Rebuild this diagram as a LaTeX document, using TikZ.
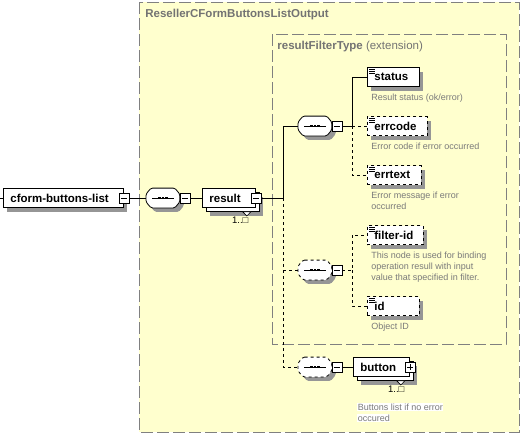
\documentclass[tikz,border=0pt]{standalone}
\usepackage{fontspec}
\setmainfont{Liberation Sans}
\usetikzlibrary{positioning}
\usetikzlibrary{shadows}
\definecolor{groupfill}{RGB}{255,255,206}
\definecolor{groupline}{RGB}{128,128,128}
\definecolor{doctext}{RGB}{122,122,122}
\definecolor{shadowgray}{RGB}{150,150,150}
\newcommand{\hlwhite}[1]{{\setlength{\fboxsep}{0.4pt}\colorbox{white}{#1}}}
\newcommand{\octagon}[2]{([xshift=5pt+#2,yshift=-#2]#1.north west) -- ([xshift=-5pt+#2,yshift=-#2]#1.north east)
  -- ([xshift=#2,yshift=-6pt-#2]#1.north east) -- ([xshift=#2,yshift=6pt-#2]#1.south east)
  -- ([xshift=-5pt+#2,yshift=-#2]#1.south east) -- ([xshift=5pt+#2,yshift=-#2]#1.south west)
  -- ([xshift=#2,yshift=6pt-#2]#1.south west) -- ([xshift=#2,yshift=-6pt-#2]#1.north west) -- cycle}
\newcommand{\seqoutline}[2]{%
  \fill[shadowgray, rounded corners=1.5pt] \octagon{#1}{4pt};
  \filldraw[fill=white, rounded corners=1.5pt, #2] \octagon{#1}{0pt};
  \draw ([xshift=6pt]#1.west) -- ([xshift=-6pt]#1.east);
  \foreach \d in {-3.6,0,3.6} \fill ([xshift=\d pt]#1.center) ++(-1.4,-1.4) rectangle ++(2.8,2.8);}

\begin{document}
\begin{tikzpicture}[x=1pt, y=-1pt, line width=0.8pt,
    elem/.style={draw, fill=white, anchor=west, minimum height=19pt, inner xsep=7pt, inner ysep=0pt,
      text width=#1, font=\fontsize{11.5}{13}\selectfont\bfseries},
    single/.style={elem=#1, drop shadow={shadow xshift=4pt, shadow yshift=-4pt, fill=shadowgray, opacity=1}},
    multi/.style={elem=#1, general shadow={shadow xshift=8pt, shadow yshift=-8pt, fill=shadowgray, opacity=1},
      copy shadow={shadow xshift=4pt, shadow yshift=-4pt}},
    seq/.style={rectangle, anchor=west, minimum width=33pt, minimum height=19pt, inner sep=0pt,
      append after command={\pgfextra{\seqoutline{\tikzlastnode}{#1}}}},
    seq/.default=solid]
  \tikzstyle{group}=[draw=groupline, fill=groupfill, line width=0.7pt, dash pattern=on 12pt off 4pt]
  \tikzstyle{grouptitle}=[anchor=west, inner sep=0pt, text=groupline!90!black, font=\fontsize{11.5}{13}\selectfont]
  \tikzstyle{typed}=[path picture={\foreach \k in {1.6,3.6,5.6}
      \draw[solid, line width=0.6pt] ([shift={(1.8pt,-\k pt)}]path picture bounding box.north west) -- +(6pt,0pt);}]
  \tikzstyle{mbox}=[draw, solid, fill=white, minimum size=10pt, inner sep=0pt, line width=0.6pt,
      path picture={\draw ([xshift=2pt]path picture bounding box.west) -- ([xshift=-2pt]path picture bounding box.east);}]
  \tikzstyle{pbox}=[mbox, path picture={\draw ([xshift=2pt]path picture bounding box.west) -- ([xshift=-2pt]path picture bounding box.east);
        \draw ([yshift=-2pt]path picture bounding box.north) -- ([yshift=2pt]path picture bounding box.south);}]
  \tikzstyle{desc}=[anchor=north west, inner sep=0pt, align=left, text=doctext, font=\fontsize{9}{11}\selectfont]
  \tikzstyle{mult}=[anchor=north east, inner sep=0pt, font=\fontsize{9.5}{11}\selectfont]
  \tikzstyle{notch}=[fill=white, line width=0.6pt]

  \useasboundingbox (0,0) rectangle (525,437);

  \draw[group] (139,2) rectangle (519,432);
  \node[grouptitle] (outer-title) at (145,15) {\bfseries ResellerCFormButtonsListOutput};
  \draw[group] (272,34) rectangle (506,344);
  \node[grouptitle] (inner-title) at (277,47) {\textbf{resultFilterType} (extension)};

  \node[single=106pt] (cform) at (3,198) {cform-buttons-list};
  \node[mbox] (cform-m) at (cform.east) {};
  \coordinate (in) at (0,198);

  \node[seq] (seq1) at (146,198) {};
  \node[mbox, right=0pt of seq1] (seq1-m) {};

  \node[multi=39pt] (result) at (202,198) {result};
  \node[mbox] (result-m) at (result.east) {};
  \draw[notch] ([xshift=-13pt,yshift=-4pt]result.south east) -- ++(8,0) -- ++(-4,4) -- cycle;
  \node[mult, below left=8.5pt and 7pt of result.south east] (result-occ) {1..□};

  \node[seq] (seq2) at (298,126) {};
  \node[mbox, right=0pt of seq2] (seq2-m) {};
  \node[seq=dashed] (seq3) at (298,270) {};
  \node[mbox, right=0pt of seq3] (seq3-m) {};
  \node[seq=dashed] (seq4) at (298,367) {};
  \node[mbox, right=0pt of seq4] (seq4-m) {};

  \node[single=38pt, typed] (status) at (367,77) {status};
  \node[desc, below right=7pt and 4pt of status.south west] (status-doc) {Result status (ok/error)};
  \node[single=46pt, typed, dashed] (errcode) at (367,126) {errcode};
  \node[desc, below right=7pt and 4pt of errcode.south west] (errcode-doc) {Error code if error occurred};
  \node[single=40pt, typed, dashed] (errtext) at (367,175) {errtext};
  \node[desc, below right=7pt and 4pt of errtext.south west] (errtext-doc) {Error message if error\\occurred};

  \node[single=42pt, typed, dashed] (filter-id) at (367,235) {filter-id};
  \node[desc, below right=7pt and 4pt of filter-id.south west] (filter-id-doc)
    {This node is used for binding\\operation resull with input\\value that specified in filter.};
  \node[single=38pt, typed, dashed] (id) at (367,306) {id};
  \node[desc, below right=7pt and 4pt of id.south west] (id-doc) {Object ID};

  \node[multi=42pt] (button) at (353,367) {button};
  \node[pbox] (button-p) at (button.east) {};
  \draw[notch] ([xshift=-13pt,yshift=-4pt]button.south east) -- ++(8,0) -- ++(-4,4) -- cycle;
  \node[mult, below left=8.5pt and 5pt of button.south east] (button-occ) {1..□};
  \node[desc, below right=26pt and 4pt of button.south west] (button-doc)
    {\hlwhite{Buttons list if no error}\\\hlwhite{occured}};

  \coordinate (fork1) at (283,198);
  \coordinate (fork2) at (352,126);
  \coordinate (fork3) at (352,270);

  \draw (in) -- (cform.west);
  \draw (cform-m.east) -- (seq1.west);
  \draw (seq1-m.east) -- (result.west);
  \draw (result-m.east) -- (fork1) |- (seq2.west);
  \draw[dashed] (fork1) |- (seq3.west);
  \draw[dashed] (fork1) |- (seq4.west);
  \draw (seq2-m.east) -- (fork2) |- (status.west);
  \draw[dashed] (fork2) -- (errcode.west);
  \draw[dashed] (fork2) |- (errtext.west);
  \draw[dashed] (seq3-m.east) -- (fork3) |- (filter-id.west);
  \draw[dashed] (fork3) |- (id.west);
  \draw (seq4-m.east) -- (button.west);
\end{tikzpicture}
\end{document}
